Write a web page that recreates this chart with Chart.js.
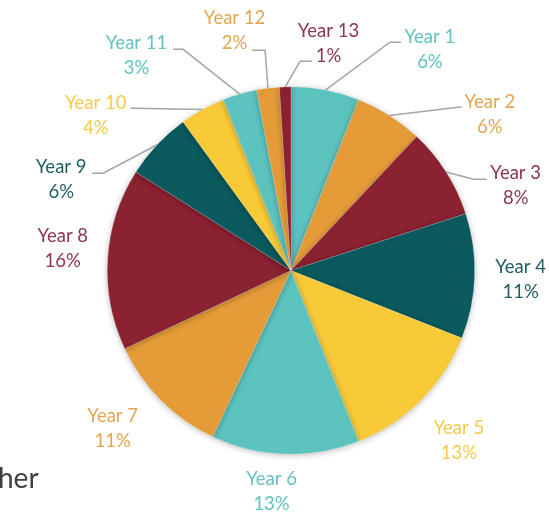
<!DOCTYPE html>
<html>
<head>
<meta charset="utf-8">
<script src="https://cdn.jsdelivr.net/npm/chart.js@4/dist/chart.umd.min.js"></script>
<style>
  html, body { margin: 0; padding: 0; background: #ffffff; }
  #wrap { position: relative; width: 549px; height: 513px; overflow: hidden; }
  #pie { display: block; }
</style>
</head>
<body>
<div id="wrap"><canvas id="pie" width="549" height="513"></canvas></div>
<script>
// Share of pupils by school year (%)
const years = ['Year 1', 'Year 2', 'Year 3', 'Year 4', 'Year 5', 'Year 6', 'Year 7',
               'Year 8', 'Year 9', 'Year 10', 'Year 11', 'Year 12', 'Year 13'];
const shares = [6, 6, 8, 11, 13, 13, 11, 16, 6, 4, 3, 2, 1];

// Palette cycles through five colours
const TEAL = '#5cc3bf', ORANGE = '#e59c38', RED = '#8b2232', PETROL = '#0a5a5e', YELLOW = '#f9ca38';
const sliceColors = [TEAL, ORANGE, RED, PETROL, YELLOW, TEAL, ORANGE, RED, PETROL, YELLOW, TEAL, ORANGE, RED];
const TXT = { [TEAL]: '#64c2c2', [ORANGE]: '#e5a552', [RED]: '#8e3550', [PETROL]: '#1f5e64', [YELLOW]: '#f6ca4c' };

// Label placement: offset of the two-line label block from the slice's outer mid-point,
// plus an optional leader line (elbow and end point relative to the block centre).
const labelLayout = [
  { dx: 104.5, dy: -40.3, lead: [-40, -7.5, -29, -7.5] },
  { dx: 100.4, dy: -0.6,  lead: [-32, -7.5, -28, -7.5] },
  { dx: 69.6,  dy: 13.6,  lead: [-42, -6.5, -29, -6.5] },
  { dx: 46,    dy: 3 },
  { dx: 38,    dy: 40 },
  { dx: -13.7, dy: 37.6 },
  { dx: -48.4, dy: 28.4 },
  { dx: -44.9, dy: -10.9 },
  { dx: -95.9, dy: 34.4,  lead: [42, -6, 31, -6] },
  { dx: -106.8, dy: 5.7,  lead: [38.5, -7, 34.5, -7] },
  { dx: -103.2, dy: -38.3, lead: [46.5, -6.5, 36.5, -6.5] },
  { dx: -33.4, dy: -57.5, lead: [30.5, 19.5, 17.5, 19.5] },
  { dx: 43.3,  dy: -43.6, lead: [-28.5, 18, -16.5, 18] }
];

const LABEL_FONT = '18.5px Lato, "Open Sans", sans-serif';
const LINE_GAP = 25;

// Soft drop shadow under the pie
const pieShadow = {
  id: 'pieShadow',
  beforeDatasetsDraw(chart) {
    const ctx = chart.ctx;
    ctx.save();
    ctx.shadowColor = 'rgba(0,0,0,0.28)';
    ctx.shadowBlur = 6;
    ctx.shadowOffsetX = 0;
    ctx.shadowOffsetY = 1;
  },
  afterDatasetsDraw(chart) {
    chart.ctx.restore();
  }
};

// Outside labels with leader lines
const outsideLabels = {
  id: 'outsideLabels',
  afterDraw(chart) {
    const ctx = chart.ctx;
    const meta = chart.getDatasetMeta(0);
    ctx.save();
    ctx.textAlign = 'center';
    ctx.textBaseline = 'middle';
    ctx.font = LABEL_FONT;
    meta.data.forEach((arc, i) => {
      const mid = (arc.startAngle + arc.endAngle) / 2;
      const ex = arc.x + Math.cos(mid) * arc.outerRadius;
      const ey = arc.y + Math.sin(mid) * arc.outerRadius;
      const lay = labelLayout[i];
      const cx = ex + lay.dx, cy = ey + lay.dy;
      if (lay.lead) {
        ctx.beginPath();
        ctx.strokeStyle = '#a5a5a5';
        ctx.lineWidth = 1.5;
        ctx.moveTo(ex, ey);
        ctx.lineTo(cx + lay.lead[0], cy + lay.lead[1]);
        ctx.lineTo(cx + lay.lead[2], cy + lay.lead[3]);
        ctx.stroke();
      }
      ctx.fillStyle = TXT[sliceColors[i]];
      ctx.fillText(years[i], cx, cy - LINE_GAP / 2);
      ctx.fillText(shares[i] + '%', cx, cy + LINE_GAP / 2);
    });
    // fragment of neighbouring slide text at the lower left
    ctx.textAlign = 'left';
    ctx.textBaseline = 'alphabetic';
    ctx.fillStyle = '#404040';
    ctx.font = '28px Lato, "Open Sans", sans-serif';
    ctx.fillText('her', -2, 488);
    ctx.restore();
  }
};

new Chart(document.getElementById('pie'), {
  type: 'pie',
  data: {
    labels: years,
    datasets: [{
      data: shares,
      backgroundColor: sliceColors,
      borderColor: 'rgba(255,255,255,0.3)',
      borderWidth: 0.6,
      hoverOffset: 0
    }]
  },
  options: {
    responsive: false,
    animation: false,
    layout: { padding: { left: 107, right: 74, top: 86.5, bottom: 58.5 } },
    plugins: {
      legend: { display: false },
      tooltip: { enabled: false }
    }
  },
  plugins: [pieShadow, outsideLabels]
});
</script>
</body>
</html>
